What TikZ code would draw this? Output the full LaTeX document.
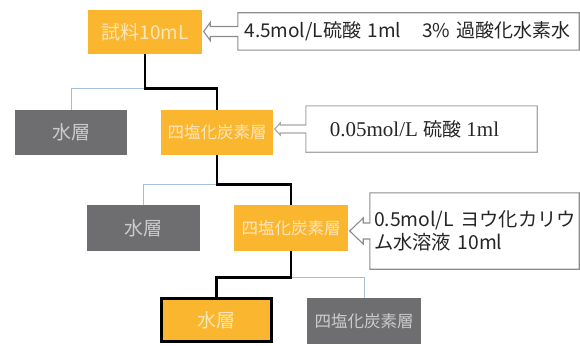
\documentclass[tikz,border=0pt]{standalone}
\usepackage{fontspec}
\newfontfamily\jp{Noto Sans CJK JP}
\newfontfamily\tms{Liberation Serif}
\usetikzlibrary{calc,backgrounds}
\definecolor{orng}{HTML}{FBB630}
\definecolor{orngtxt}{HTML}{FDE6B8}
\definecolor{gry}{HTML}{6E6D70}
\definecolor{grytxt}{HTML}{CBCBCD}
\definecolor{blu}{HTML}{A4BEDF}
\definecolor{outl}{HTML}{8C8C8C}
\definecolor{outlb}{HTML}{A8A8A8}
\tikzset{
  box/.style={inner sep=0pt, font=\jp},
  obox/.style={box, fill=orng, text=orngtxt},
  gbox/.style={box, fill=gry, text=grytxt},
  mainline/.style={line width=2.6pt, black},
  sideline/.style={line width=1pt, blu},
  callout/.style={fill=white, draw=outl, line width=1.1pt, line join=miter},
  ctext/.style={inner sep=0pt, font=\jp, text=black!85},
}
\newcommand\callarr[6][callout]{%
  \draw[#1] (#2.north west) -- (#2.north east) -- (#2.south east) -- (#2.south west)
    -- ($(#2.west)+(0,#4)$) -- ($(#3.east |- #2.west)+(#6,#4)$)
    -- ($(#3.east |- #2.west)+(#6,#5)$) -- ($(#3.east |- #2.west)+(1.5,0)$)
    -- ($(#3.east |- #2.west)+(#6,-#5)$) -- ($(#3.east |- #2.west)+(#6,-#4)$)
    -- ($(#2.west)+(0,-#4)$) -- cycle;}
\begin{document}
\begin{tikzpicture}[x=1pt,y=-1pt]
\useasboundingbox (0,0) rectangle (580,345);
% boxes
\node[obox, minimum width=114pt, minimum height=44pt, font=\jp\fontsize{19}{22}\selectfont] (s0) at (145,32) {試料10mL};
\node[gbox, minimum width=112pt, minimum height=45pt, font=\jp\fontsize{19}{22}\selectfont] (w1) at (71,132.5) {水層};
\node[obox, minimum width=112pt, minimum height=45pt, font=\jp\fontsize{16.5}{20}\selectfont] (o1) at (217,132.5) {四塩化炭素層};
\node[gbox, minimum width=113pt, minimum height=46pt, font=\jp\fontsize{19}{22}\selectfont] (w2) at (143.5,228) {水層};
\node[obox, minimum width=114pt, minimum height=46pt, font=\jp\fontsize{16.5}{20}\selectfont] (o2) at (291,228) {四塩化炭素層};
\node[obox, draw=black, line width=3pt, minimum width=110pt, minimum height=43pt, font=\jp\fontsize{19}{22}\selectfont] (f) at (216.5,320) {水層};
\node[gbox, minimum width=114pt, minimum height=46pt, font=\jp\fontsize{16.5}{20}\selectfont] (g) at (364,321) {四塩化炭素層};
% callouts
\node[ctext, minimum width=341pt, minimum height=37pt, text width=328pt, align=left, font=\jp\fontsize{19}{22}\selectfont] (c1) at (408.5,31.5) {4.5mol/L硫酸 1ml\hspace{21pt}3\% 過酸化水素水};
\node[ctext, minimum width=231pt, minimum height=46pt] (c2) at (421.5,129) {\hspace{-14pt}{\tms\fontsize{21}{24}\selectfont 0.05mol/L }{\jp\fontsize{19}{22}\selectfont 硫酸}{\tms\fontsize{21}{24}\selectfont\ 1ml}};
\node[ctext, minimum width=209pt, minimum height=76pt, text width=201pt, align=left, font=\jp\fontsize{19.3}{22.5}\selectfont] (c3) at (474.5,231) {\mbox{0.5mol/L ヨウ化カリウ}\\ム水溶液 10ml};
\begin{scope}[on background layer]
\callarr{c1}{s0}{5}{9}{8}
\callarr[callout, draw=outlb]{c2}{o1}{4}{6}{7}
\callarr{c3}{o2}{8}{13}{15}
\end{scope}
% connectors
\coordinate (j1) at ($(s0.south)+(0,34)$);
\coordinate (j2) at ($(o1.south)+(0,29)$);
\coordinate (j3) at ($(o2.south)+(0,26)$);
\draw[sideline] (j1) -| (w1.north);
\draw[sideline] (j2) -| (w2.north);
\draw[sideline] (j3) -| (g.north);
\draw[mainline] (s0.south) -- (j1) -| (o1.north);
\draw[mainline] (o1.south) -- (j2) -| (o2.north);
\draw[mainline] (o2.south) -- (j3) -| (f.north);
\end{tikzpicture}
\end{document}
